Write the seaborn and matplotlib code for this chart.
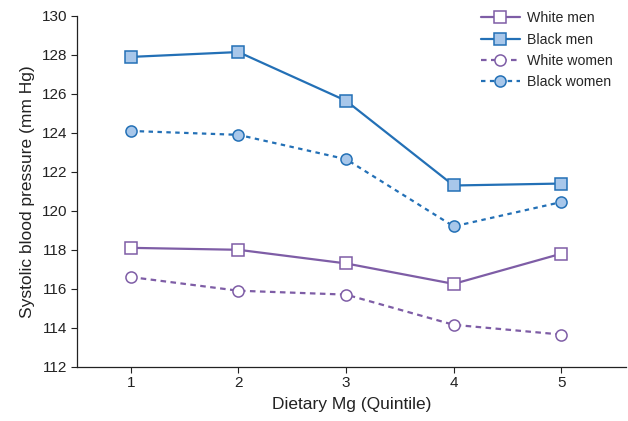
import matplotlib
matplotlib.use("Agg")
import matplotlib.pyplot as plt
import seaborn as sns
import pandas as pd

quintiles = [1, 2, 3, 4, 5]
white_men = [118.1, 118.0, 117.3, 116.25, 117.8]
black_men = [127.9, 128.15, 125.65, 121.3, 121.4]
white_women = [116.6, 115.9, 115.7, 114.15, 113.65]
black_women = [124.1, 123.9, 122.65, 119.2, 120.45]

PURPLE = "#7e5da6"
BLUE = "#2370b6"
FILL = "#a8c7ea"

sns.set_theme(style="ticks")
plt.rcParams['font.family'] = ['Liberation Sans', 'DejaVu Sans']

fig = plt.figure(figsize=(6.28, 4.21), dpi=100)
ax = fig.add_axes([0.1226, 0.129, 0.874, 0.833])

series = [
    ("White men", white_men, PURPLE, "s", "white", "-", 8.5),
    ("Black men", black_men, BLUE, "s", FILL, "-", 8.5),
    ("White women", white_women, PURPLE, "o", "white", (0, (2.5, 2)), 8),
    ("Black women", black_women, BLUE, "o", FILL, (0, (2, 2)), 8),
]

for name, vals, col, mk, fc, ls, ms in series:
    df = pd.DataFrame({"q": quintiles, "v": vals})
    sns.lineplot(data=df, x="q", y="v", ax=ax, color=col, marker=mk,
                 markerfacecolor=fc, markeredgecolor=col, markeredgewidth=1.1,
                 markersize=ms, linewidth=1.6, linestyle=ls, label=name)

ax.set_xlim(0.5, 5.6)
ax.set_ylim(112, 130)
ax.set_xticks(quintiles)
ax.set_yticks(range(112, 131, 2))
ax.tick_params(axis="both", labelsize=11, length=4, width=0.8, colors="#222222", pad=3)
for s in ["top", "right"]:
    ax.spines[s].set_visible(False)
for s in ["left", "bottom"]:
    ax.spines[s].set_linewidth(0.9)
    ax.spines[s].set_color("#222222")
ax.set_xlabel("Dietary Mg (Quintile)", fontsize=12.5, color="#222222", labelpad=5)
ax.set_ylabel("Systolic blood pressure (mm Hg)", fontsize=12.5, color="#222222", labelpad=5)

leg = ax.legend(loc="upper right", bbox_to_anchor=(1.0, 1.05), frameon=False,
                fontsize=10.2, handlelength=2.8, labelspacing=0.52, handletextpad=0.5)

fig.savefig("out.png", dpi=100)
